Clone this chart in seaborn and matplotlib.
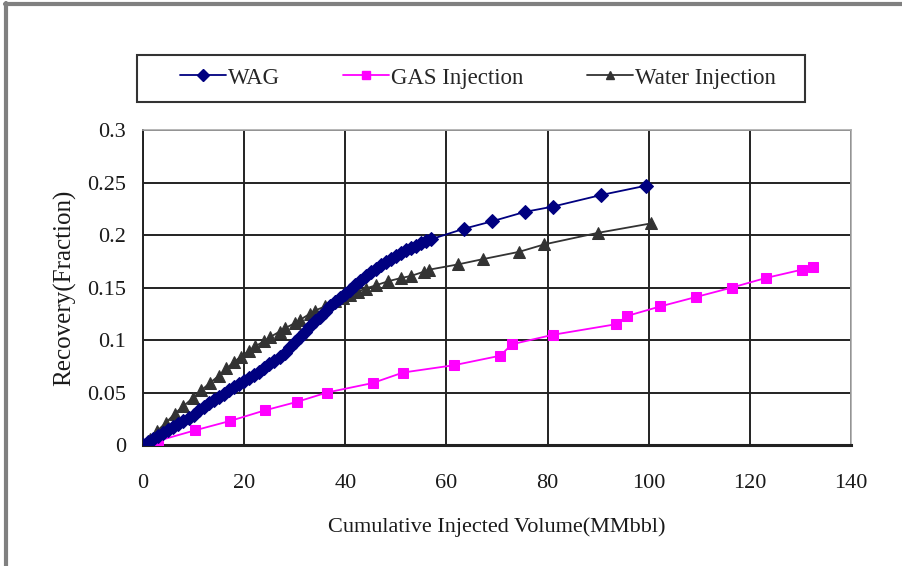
import matplotlib
matplotlib.use("Agg")
import matplotlib.pyplot as plt
from matplotlib.patches import Rectangle
from matplotlib.lines import Line2D
import seaborn as sns

# values
wag_x = [0, 1, 2, 3, 4, 5, 6, 7, 8, 9, 10, 11, 12, 13, 14, 15, 16, 17, 18, 19,
         20, 21, 22, 23, 24, 25, 26, 27, 28, 29, 30, 31, 32, 33, 34, 35, 36, 37,
         38, 39, 40, 41, 42, 43, 44, 45, 46, 47, 48, 49, 50, 51, 52, 53, 54, 55,
         56, 57, 63.5, 69, 75.5, 81, 90.5, 99.5]
wag_y = [0, 0.003, 0.006, 0.009, 0.011, 0.014, 0.017, 0.020, 0.023, 0.026,
         0.029, 0.033, 0.036, 0.040, 0.043, 0.046, 0.049, 0.052, 0.055, 0.058,
         0.061, 0.064, 0.067, 0.070, 0.073, 0.077, 0.080, 0.084, 0.088, 0.093,
         0.098, 0.103, 0.108, 0.113, 0.118, 0.122, 0.127, 0.132, 0.136, 0.140,
         0.144, 0.148, 0.152, 0.156, 0.161, 0.165, 0.168, 0.171, 0.174, 0.177,
         0.180, 0.183, 0.186, 0.188, 0.190, 0.192, 0.194, 0.196, 0.206, 0.213,
         0.222, 0.227, 0.238, 0.247]

gas_x = [0, 3, 10.3, 17.3, 24.1, 30.4, 36.4, 45.4, 51.4, 61.5, 70.6, 73, 81.1,
         93.5, 95.8, 102.3, 109.4, 116.5, 123.1, 130.3, 132.5]
gas_y = [0.001, 0.004, 0.014, 0.023, 0.033, 0.041, 0.050, 0.059, 0.069, 0.076,
         0.085, 0.096, 0.105, 0.115, 0.123, 0.132, 0.141, 0.150, 0.159, 0.167,
         0.170]

water_x = [0, 1.3, 2.7, 4.5, 6.3, 8, 9.9, 11.5, 13.2, 15, 16.5, 18, 19.3, 21,
           22.2, 24, 25.2, 27, 28, 30, 31, 33, 34, 36, 38, 39.5, 41, 42.5, 44,
           46, 48.5, 51, 53, 55.5, 56.6, 62.3, 67.2, 74.4, 79.3, 89.9, 100.4]
water_y = [0, 0.006, 0.013, 0.021, 0.030, 0.037, 0.045, 0.052, 0.059, 0.066,
           0.073, 0.079, 0.084, 0.090, 0.094, 0.099, 0.103, 0.108, 0.111, 0.116,
           0.119, 0.125, 0.128, 0.132, 0.137, 0.140, 0.143, 0.146, 0.149, 0.152,
           0.156, 0.159, 0.161, 0.165, 0.167, 0.172, 0.177, 0.184, 0.191, 0.202,
           0.211]

x_ticks = [0, 20, 40, 60, 80, 100, 120, 140]
y_ticks = [0, 0.05, 0.1, 0.15, 0.2, 0.25, 0.3]
y_tick_labels = ["0", "0.05", "0.1", "0.15", "0.2", "0.25", "0.3"]

sns.set_style("white")
plt.rcParams["font.family"] = ["Liberation Serif", "DejaVu Serif"]

fig = plt.figure(figsize=(9.03, 5.66), dpi=100)
ax = fig.add_axes([143 / 903, 1 - 445 / 566, (851 - 143) / 903, (445 - 130) / 566])

wag_c = "#000080"
gas_c = "#ff00ff"
water_c = "#333333"

sns.lineplot(x=water_x, y=water_y, ax=ax, sort=False, color=water_c, lw=1.3,
             marker="^", markersize=8, markeredgecolor=water_c, zorder=3)
sns.lineplot(x=gas_x, y=gas_y, ax=ax, sort=False, color=gas_c, lw=1.3,
             marker="s", markersize=7, markeredgecolor=gas_c, zorder=3)
sns.lineplot(x=wag_x, y=wag_y, ax=ax, sort=False, color=wag_c, lw=1.3,
             marker="D", markersize=7.5, markeredgecolor=wag_c, zorder=4)

ax.set_xlim(0, 140)
ax.set_ylim(0, 0.3)
ax.set_xticks(x_ticks)
ax.set_yticks(y_ticks)
ax.set_yticklabels(y_tick_labels)
ax.grid(True, color="#222222", lw=1.4)
ax.set_axisbelow(True)
ax.tick_params(axis="both", direction="out", length=7, width=1.2, colors="#222222",
               labelsize=16, labelcolor="#1a1a1a")
ax.tick_params(axis="x", pad=14)
ax.tick_params(axis="y", pad=5)

for side in ["top", "right"]:
    ax.spines[side].set_color("#aaaaaa")
    ax.spines[side].set_linewidth(1.2)
ax.spines["bottom"].set_color("#222222")
ax.spines["bottom"].set_linewidth(2.2)
ax.spines["left"].set_color("#222222")
ax.spines["left"].set_linewidth(1.4)

ax.set_xlabel("Cumulative Injected Volume(MMbbl)", fontsize=16, color="#1a1a1a",
              labelpad=17)
ax.set_ylabel("Recovery(Fraction)", fontsize=18, color="#1a1a1a", labelpad=8)

# legend box
fig.patches.append(Rectangle((137 / 903, 1 - 102 / 566), (805 - 137) / 903, 47 / 566,
                             transform=fig.transFigure, fill=False,
                             edgecolor="#333333", lw=1.5))
handles = [
    Line2D([], [], color=wag_c, marker="D", markersize=6, lw=1.3),
    Line2D([], [], color=gas_c, marker="s", markersize=6, lw=1.3),
    Line2D([], [], color=water_c, marker="^", markersize=6, lw=1.3),
]
fig.legend(handles, ["WAG", "GAS Injection", "Water Injection"], ncol=3,
           loc="center", bbox_to_anchor=(478 / 903, 1 - 78 / 566), frameon=False,
           fontsize=16.5, handlelength=2.0, handletextpad=0.1, columnspacing=2.75)

# outer gray frame (top and left edges)
fig.add_artist(Line2D([5 / 903, 1], [1 - 4 / 566, 1 - 4 / 566], transform=fig.transFigure,
                      color="#808080", lw=3))
fig.add_artist(Line2D([6 / 903, 6 / 903], [0, 1 - 3 / 566], transform=fig.transFigure,
                      color="#808080", lw=3))

fig.savefig("out.png", dpi=100)
